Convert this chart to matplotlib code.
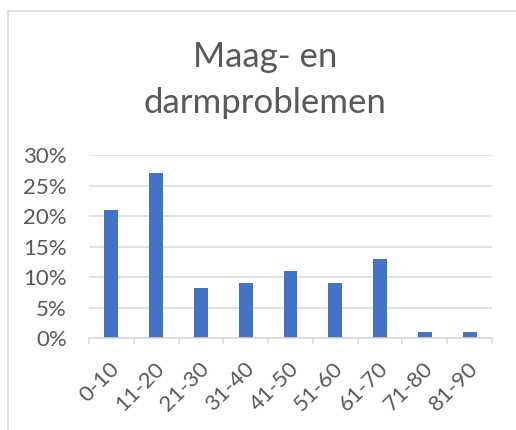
import numpy as np
import matplotlib.pyplot as plt
from matplotlib.patches import Rectangle
from matplotlib.ticker import PercentFormatter, FixedLocator

categories = ['0-10', '11-20', '21-30', '31-40', '41-50', '51-60', '61-70', '71-80', '81-90']
values = [0.21, 0.27, 0.083, 0.09, 0.11, 0.09, 0.13, 0.01, 0.01]
y_ticks = [0, 0.05, 0.10, 0.15, 0.20, 0.25, 0.30]

plt.rcParams['font.family'] = ['Lato', 'DejaVu Sans']
text_grey = '#595959'
line_grey = '#d9d9d9'

fig = plt.figure(figsize=(5.16, 4.30), dpi=100)
ax = fig.add_axes([89 / 516, 1 - 338.3 / 430, 403 / 516, 183.3 / 430])

# chart border (only partly visible in the crop)
fig.patches.append(Rectangle((8 / 516, -0.1), 1.2, 1 - 11 / 430 + 0.1,
                             transform=fig.transFigure, fill=False,
                             edgecolor=line_grey, linewidth=1.2))

x = np.arange(len(categories))
ax.bar(x, values, width=0.31, color='#4472C4', zorder=3)

ax.set_xlim(-0.5, len(categories) - 0.5)
ax.set_ylim(0, 0.30)
ax.set_yticks(y_ticks)
ax.yaxis.set_major_formatter(PercentFormatter(1.0, decimals=0))
ax.grid(axis='y', color=line_grey, linewidth=1.1, zorder=0)

for s in ['top', 'right', 'left']:
    ax.spines[s].set_visible(False)
ax.spines['bottom'].set_color(line_grey)
ax.spines['bottom'].set_linewidth(1.1)
ax.spines['bottom'].set_zorder(4)

# invisible major ticks nudged right so the rotated labels sit like Excel's
ax.set_xticks(x + 0.11)
ax.set_xticklabels(categories, rotation=45, ha='right', va='center',
                   rotation_mode='anchor', fontsize=16, color=text_grey)
ax.xaxis.set_minor_locator(FixedLocator(np.arange(-0.5, len(categories), 1.0)))
ax.tick_params(axis='x', which='major', length=0, pad=19.5)
ax.tick_params(axis='x', which='minor', length=4, color=line_grey, width=1.1)
ax.tick_params(axis='y', length=0, pad=16, labelsize=16, labelcolor=text_grey)

fig.text(265 / 516, 1 - 57 / 430, 'Maag- en', ha='center', va='center',
         fontsize=25, color=text_grey)
fig.text(265 / 516, 1 - 103 / 430, 'darmproblemen', ha='center', va='center',
         fontsize=25, color=text_grey)

fig.savefig('out.png', dpi=100)
